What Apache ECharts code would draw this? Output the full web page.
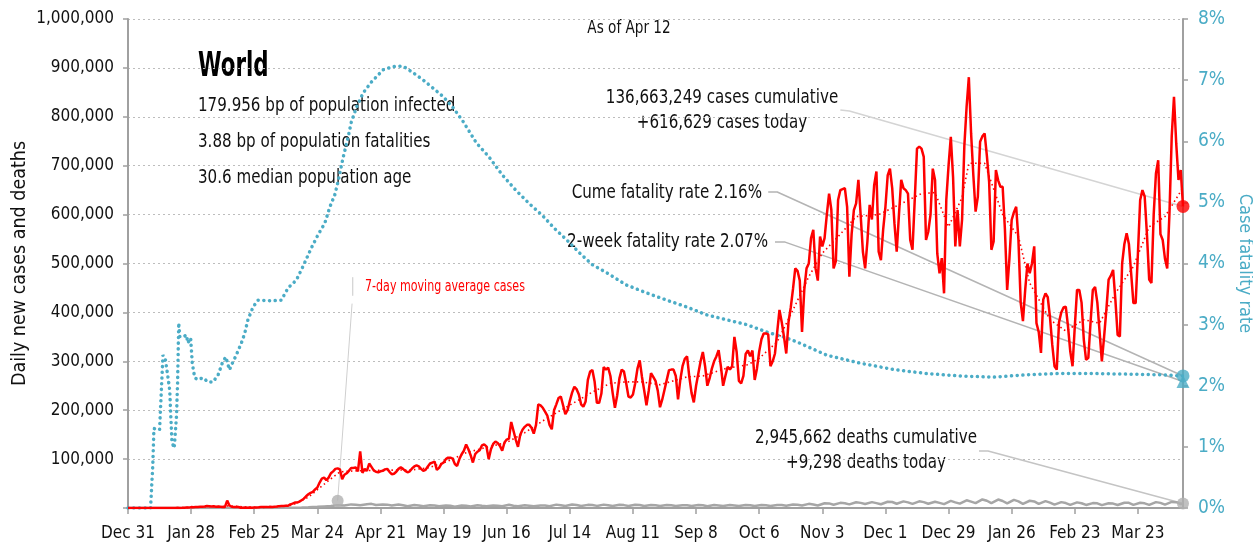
<!DOCTYPE html>
<html lang="en">
<head>
<meta charset="UTF-8" />
<title>World - daily new cases and deaths</title>
<script src="https://cdn.jsdelivr.net/npm/echarts@6/dist/echarts.min.js"></script>
<style>
  body { margin: 0; background: #fff; }
  #chart { width: 1253px; height: 545px; }
</style>
</head>
<body>
<div id="chart"></div>
<script>
// x = days since Dec 31, 2019 (last day 468 = Apr 12, 2021)
const lastDay = 468;
const tickLabels = ['Dec 31', 'Jan 28', 'Feb 25', 'Mar 24', 'Apr 21', 'May 19', 'Jun 16', 'Jul 14',
    'Aug 11', 'Sep 8', 'Oct 6', 'Nov 3', 'Dec 1', 'Dec 29', 'Jan 26', 'Feb 23', 'Mar 23'];

// daily new cases, thousands, one value per day
const dailyCasesK = [
    0, // Dec 31
    0,0,0,0,0,0,0,0,0,0,0,0,0,0,0,0,0,0,0.1,0.1,0.2,0.5,0.1,0.3,0.7,0.8,0.8,1.8,1.5,2.0,2.1, // Jan
    2.6,2.8,3.2,3.9,3.7,3.2,3.4,2.7,3.0,2.6,2.0,2.0,15.2,5.1,2.6,2.1,2.0,1.9,0.5,0.6,1.0,0.6,1.0,0.6,0.9,1.2,1.4,1.8,1.9, // Feb
    2.0,1.8,2.4,2.2,2.7,2.9,3.8,3.9,3.9,4.4,4.6,7.5,9,11,11,13,16,19,24,28,31,33,38,42,52,60,62,57,62,71,75, // Mar
    80,81,79,59,68,71,76,82,82,83,75,116,72,80,76,91,84,77,74,73,75,76,79,80,74,69,70,74,80,83, // Apr
    80,76,73,75,81,85,87,85,80,76,78,85,91,93,95,78,82,90,93,100,103,103,101,90,86,100,110,117,130,120,108, // May
    93,110,115,118,128,130,126,100,120,131,136,133,127,117,134,140,142,176,158,140,125,150,160,166,170,170,164,152,170,212, // Jun
    210,205,197,189,170,161,200,212,225,228,210,192,200,219,236,248,243,232,212,207,218,262,279,282,258,215,215,234,288,283,287, // Jul
    270,235,205,230,265,283,279,255,228,226,232,255,285,302,268,240,210,240,276,268,260,240,206,222,242,262,282,283,283,270,222, // Aug
    262,290,305,310,268,235,216,250,275,300,319,290,250,265,285,300,310,323,290,250,270,289,283,290,350,319,260,255,270,315, // Sep
    322,310,322,262,285,320,345,357,357,355,290,300,316,360,405,380,350,316,380,410,448,490,485,465,360,446,490,500,552,569,490, // Oct
    465,555,535,552,600,643,610,490,505,630,650,652,654,616,473,560,609,623,671,600,524,490,545,620,590,660,688,524,507,570, // Nov
    616,680,694,654,582,524,600,671,654,650,643,548,528,630,735,739,735,718,548,565,600,694,671,520,480,511,439,630,700,759,677, // Dec
    535,609,535,590,740,820,881,766,680,606,637,749,760,766,720,667,528,545,691,670,657,657,570,446,510,589,605,616,548,420,382, // Jan 2021
    446,500,480,500,535,378,360,317,426,439,431,390,334,290,283,380,400,410,412,371,320,290,371,446,446,420,344,303, // Feb
    307,380,446,452,420,360,300,350,405,467,475,487,426,354,351,500,540,562,540,480,419,419,520,630,650,637,560,467,460,600,684, // Mar
    711,560,548,510,490,603,760,841,745,671,691,616.629 // Apr 1-12
];

// 7-day moving average of cases, [day, thousands]
const casesAvgK = [[0,0],[21,0.1],[28,1],[35,3],[42,3],[45,4.5],[52,2],[59,1],[66,2.7],[73,6],[80,22],[86,45],
    [89,56],[94,74],[101,76],[111,77],[126,78],[133,82],[141,94],[150,113],[159,124],[168,134],[176,154],
    [185,181],[194,205],[206,237],[214,255],[221,258],[228,258],[236,252],[248,268],[255,270],[265,285],
    [275,293],[280,306],[288,340],[295,405],[302,473],[308,521],[316,560],[323,596],[333,600],[342,620],
    [352,643],[358,645],[364,575],[370,635],[373,705],[380,705],[388,600],[395,555],[400,460],[409,385],
    [416,362],[424,385],[431,378],[438,439],[446,494],[453,575],[460,596],[468,655]];

// daily deaths, [day, thousands]
const dailyDeathsK = [[0,0],[20,0],[25,0.03],[32,0.05],[40,0.1],[45,0.15],[50,0.1],[56,0.05],[63,0.1],[70,0.4],
    [77,1.0],[80,1.3],[84,2.4],[87,3.3],[90,4.2],[93,5.5],[96,5.0],[99,7.4],[101,6.5],[103,5.5],[106,7.8],
    [108,8.5],[110,6.1],[113,7.1],[115,6.9],[117,5.0],[120,7.0],[122,5.6],[124,3.6],[127,6.0],[129,5.3],
    [131,3.6],[134,5.5],[136,5.2],[138,3.5],[141,5.2],[143,4.7],[145,2.8],[148,5.3],[150,4.6],[152,3.0],
    [155,5.8],[157,4.5],[159,3.5],[162,5.2],[164,4.6],[166,3.7],[169,6.5],[171,4.6],[173,3.7],[176,5.5],
    [178,4.8],[180,3.6],[183,5.1],[185,4.9],[187,3.5],[190,6.9],[192,5.6],[194,4.0],[197,7.2],[199,6.3],
    [201,4.0],[204,6.4],[206,6.1],[208,4.3],[211,6.9],[213,5.8],[215,4.3],[218,6.8],[220,5.9],[222,4.2],
    [225,6.6],[227,6.0],[229,4.1],[232,6.3],[234,5.8],[236,4.0],[239,6.2],[241,5.5],[243,4.0],[246,5.8],
    [248,5.5],[250,3.9],[253,6.1],[255,5.5],[257,3.7],[260,6.2],[262,5.2],[264,3.9],[267,6.1],[269,5.3],
    [271,3.9],[274,6.2],[276,5.8],[278,4.1],[281,6.0],[283,5.5],[285,4.0],[288,6.3],[290,6.0],[292,4.5],
    [295,7.2],[297,6.6],[299,5.0],[302,8.5],[304,7.3],[306,5.2],[309,9.6],[311,9.4],[313,6.8],[316,10.5],
    [318,9.8],[320,7.4],[323,11.8],[325,10.5],[327,8.2],[330,12.0],[332,10.0],[334,7.6],[337,12.8],[339,12.2],
    [341,8.7],[344,13.5],[346,11.5],[348,8.3],[351,13.6],[353,12.0],[355,8.8],[358,12.9],[360,10.5],[362,8.0],
    [365,14.5],[367,11.5],[369,9.0],[372,15.8],[374,13.0],[376,10.0],[379,17.5],[381,14.8],[383,9.8],
    [386,17.3],[388,14.3],[390,9.5],[393,16.5],[395,13.5],[397,8.6],[400,14.8],[402,13.5],[404,8.6],
    [407,14.0],[409,11.0],[411,6.8],[414,12.0],[416,10.1],[418,6.5],[421,11.5],[423,9.8],[425,6.3],
    [428,10.0],[430,9.6],[432,5.9],[435,9.8],[437,9.0],[439,6.2],[442,10.8],[444,10.5],[446,6.5],
    [449,10.7],[451,9.5],[453,6.3],[456,12.0],[458,10.5],[460,6.9],[463,12.5],[465,12.0],[467,8.0],[468,9.298]];

// cumulative case fatality rate, [day, %]
const cumeFatalityPct = [[0,0],[10,0],[11,0.7],[11.5,1.3],[14,1.28],[15.5,2.5],[16.5,2.45],[17.5,2.2],
    [18.5,1.93],[19,1.5],[19.5,1.08],[20.5,0.98],[21.5,1.5],[22,2.05],[22.5,3.03],[23,2.8],[24.5,2.8],
    [26,2.83],[26.5,2.7],[27.8,2.78],[28.5,2.37],[29.6,2.13],[31,2.1],[33.3,2.13],[35.5,2.06],[37.7,2.06],
    [40,2.18],[42,2.39],[43.4,2.47],[45,2.26],[46.3,2.37],[48,2.5],[50.3,2.7],[51.8,2.86],[53.2,3.08],
    [55.5,3.29],[57.7,3.4],[63.6,3.39],[68,3.4],[71,3.6],[74.7,3.73],[77.6,3.95],[81.4,4.26],[84.3,4.47],
    [87.3,4.66],[89.6,4.93],[91.7,5.12],[93.2,5.34],[95.4,5.73],[97.6,6.06],[99.1,6.32],[101.4,6.56],
    [104.3,6.79],[108,6.97],[113.2,7.17],[117.6,7.22],[122,7.23],[126.5,7.12],[131,7.0],[135.3,6.87],
    [139.8,6.73],[144.2,6.55],[148.7,6.32],[154.6,5.97],[160,5.75],[166,5.45],[172,5.2],[178,4.98],
    [184,4.78],[189,4.58],[194.5,4.39],[200.4,4.17],[206,3.98],[212.3,3.85],[221,3.65],[230,3.52],
    [239,3.4],[247.8,3.29],[256.7,3.16],[265.5,3.08],[274.4,3.0],[283.3,2.88],[290.6,2.8],[296.6,2.72],
    [310,2.5],[324.7,2.37],[339,2.27],[354,2.2],[369,2.16],[383.7,2.14],[398.8,2.18],[413,2.2],[428,2.2],
    [443,2.19],[457.8,2.18],[468,2.16]];
const twoWeekFatalityPct = 2.07;

// leader-line anchors for the annotations, [day, value]
const casesLeader = [[316, 814000], [320, 812000]];
const cumeLeader = [[284, 5.17], [288, 5.17]];
const twoWeekLeader = [[287, 4.35], [291.5, 4.35]];
const deathsLeader = [[377.5, 116600], [381.5, 116600]];
const avgNoteLeader = [[93, 15000], [99.4, 418000]];
const avgNoteTick = [[99.7, 434000], [99.7, 472000]];

const FONT = "'DejaVu Sans Condensed', 'Liberation Sans Narrow', 'Liberation Sans', sans-serif";
const RED = '#ff0000';
const TEAL = '#4bacc6';
const GREY = '#a6a6a6';
const AXIS = '#a0a0a0';
const SQUEEZE = 0.84; // the original type is a narrow face

const cases = dailyCasesK.map((v, i) => [i, v * 1000]);
const casesAvg = casesAvgK.map(p => [p[0], p[1] * 1000]);
const deaths = dailyDeathsK.map(p => [p[0], p[1] * 1000]);
const lastCases = cases[cases.length - 1];
const lastDeaths = deaths[deaths.length - 1];
const lastCume = cumeFatalityPct[cumeFatalityPct.length - 1];

function leader(name, pts, end, yAxisIndex, color) {
    return {
        name: name, type: 'line', yAxisIndex: yAxisIndex, data: pts.concat([end]),
        symbol: 'none', silent: true, z: 1,
        lineStyle: { color: color, width: 1.5 }
    };
}

function note(text, x, y, align, font, color, squeeze) {
    return {
        type: 'text', x: x, y: y, scaleX: squeeze || SQUEEZE,
        style: { text: text, align: align, verticalAlign: 'middle', fill: color || '#111',
                 font: font + ' ' + FONT }
    };
}

const chart = echarts.init(document.getElementById('chart'));
chart.setOption({
    animation: false,
    textStyle: { fontFamily: FONT },
    grid: { left: 128, right: 70, top: 19, bottom: 37, containLabel: false, outerBoundsMode: 'none' },
    xAxis: {
        type: 'value', min: 0, max: lastDay, interval: 28,
        axisLine: { lineStyle: { color: AXIS, width: 2 } },
        axisTick: { length: 6, lineStyle: { color: AXIS, width: 1.5 } },
        axisLabel: {
            color: '#111', fontSize: 17, margin: 17, showMaxLabel: false, hideOverlap: false,
            formatter: v => (v % 28 === 0 && tickLabels[v / 28]) ? tickLabels[v / 28] : ''
        },
        splitLine: { show: false }
    },
    yAxis: [{
        type: 'value', min: 0, max: 1000000, interval: 100000,
        name: 'Daily new cases and deaths', nameLocation: 'middle', nameGap: 98, nameMoveOverlap: false,
        nameTextStyle: { color: '#111', fontSize: 19.5 },
        axisLine: { show: true, lineStyle: { color: AXIS, width: 2 } },
        axisTick: { show: true, length: 5, lineStyle: { color: AXIS, width: 1.5 } },
        axisLabel: { color: '#111', fontSize: 17, margin: 14,
            formatter: v => v === 0 ? '' : v.toLocaleString('en-US') },
        splitLine: { show: true, lineStyle: { color: '#bdbdbd', width: 1, type: [2, 3] } }
    }, {
        type: 'value', min: 0, max: 8, interval: 1, position: 'right',
        name: 'Case fatality rate', nameLocation: 'middle', nameGap: 45, nameRotate: -90,
        nameTextStyle: { color: TEAL, fontSize: 18 },
        axisLine: { show: true, lineStyle: { color: AXIS, width: 2 } },
        axisTick: { show: true, length: 5, lineStyle: { color: AXIS, width: 1.5 } },
        axisLabel: { color: TEAL, fontSize: 19, margin: 15, formatter: v => v + '%' },
        splitLine: { show: false }
    }],
    series: [
        leader('casesLeader', casesLeader, lastCases, 0, '#d4d4d4'),
        leader('cumeLeader', cumeLeader, lastCume, 1, '#b4b4b4'),
        leader('twoWeekLeader', twoWeekLeader, [lastDay, twoWeekFatalityPct], 1, '#b4b4b4'),
        leader('deathsLeader', deathsLeader, lastDeaths, 0, '#c4c4c4'),
        { name: 'avgNote', type: 'line', data: avgNoteLeader, symbol: 'none', silent: true, z: 1,
          lineStyle: { color: '#cfcfcf', width: 1 } },
        { name: 'avgNoteTick', type: 'line', data: avgNoteTick, symbol: 'none', silent: true, z: 1,
          lineStyle: { color: '#c8c8c8', width: 1 } },
        {
            name: 'Daily deaths', type: 'line', data: deaths, symbol: 'none', z: 2,
            lineStyle: { color: GREY, width: 2.5 }
        },
        {
            name: 'Cume fatality rate', type: 'line', yAxisIndex: 1, data: cumeFatalityPct, symbol: 'none', z: 3,
            lineStyle: { color: TEAL, width: 3.5, type: [0.1, 5.6], cap: 'round' }
        },
        {
            name: '7-day average cases', type: 'line', data: casesAvg, symbol: 'none', z: 4,
            lineStyle: { color: RED, width: 1.6, type: [1.5, 3] }
        },
        {
            name: 'Daily cases', type: 'line', data: cases, symbol: 'none', z: 5,
            lineStyle: { color: RED, width: 2.5 }
        },
        { type: 'scatter', data: [lastCases], symbol: 'circle', symbolSize: 13, z: 6,
          itemStyle: { color: RED } },
        { type: 'scatter', data: [lastDeaths, avgNoteLeader[0]], symbol: 'circle', symbolSize: 12, z: 6,
          itemStyle: { color: '#b0b0b0' } },
        { type: 'scatter', yAxisIndex: 1, data: [lastCume], symbol: 'circle', symbolSize: 13, z: 6,
          itemStyle: { color: TEAL } },
        { type: 'scatter', yAxisIndex: 1, data: [[lastDay, twoWeekFatalityPct]], symbol: 'triangle',
          symbolSize: 13, z: 6, itemStyle: { color: TEAL } }
    ],
    graphic: [
        note('As of Apr 12', 629, 28, 'center', '18px'),
        note('World', 198, 67, 'left', 'bold 33px', '#000', 0.72),
        note('179.956 bp of population infected', 198, 106, 'left', '20px'),
        note('3.88 bp of population fatalities', 198, 142, 'left', '20px'),
        note('30.6 median population age', 198, 178, 'left', '20px'),
        note('136,663,249 cases cumulative', 722, 98, 'center', '20px'),
        note('+616,629 cases today', 722, 123, 'center', '20px'),
        note('Cume fatality rate 2.16%', 762, 193, 'right', '20px'),
        note('2-week fatality rate 2.07%', 768, 242, 'right', '20px'),
        note('2,945,662 deaths cumulative', 866, 438, 'center', '20px'),
        note('+9,298 deaths today', 866, 463, 'center', '20px'),
        note('7-day moving average cases', 365, 287, 'left', '16px', RED, 0.77)
    ]
});
</script>
</body>
</html>
